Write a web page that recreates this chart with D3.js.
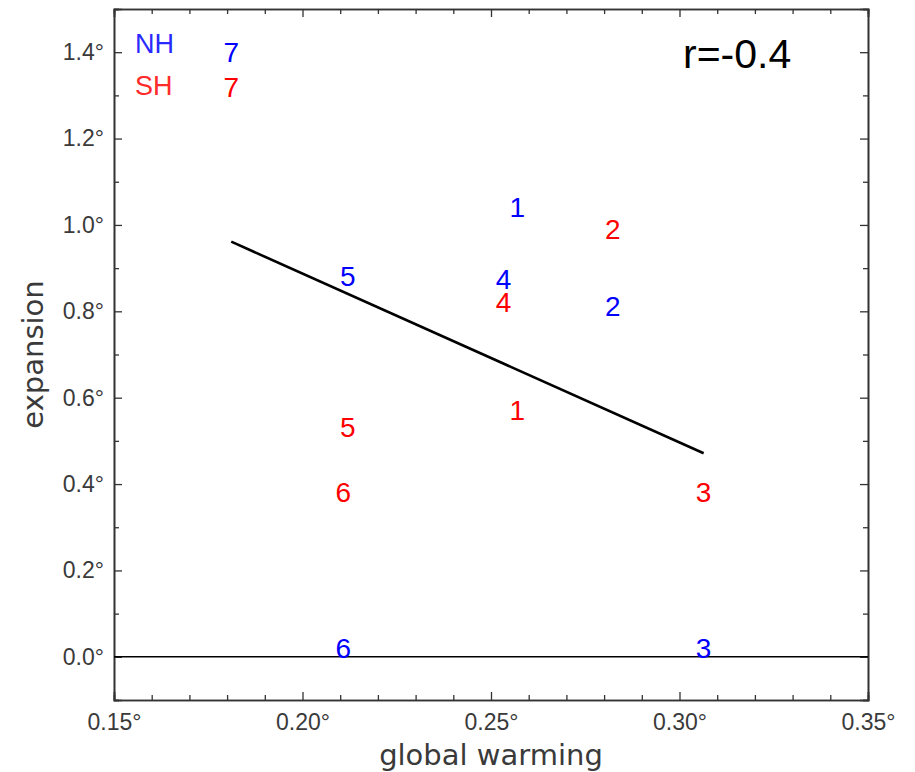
<!DOCTYPE html>
<html>
<head>
<meta charset="utf-8">
<script src="https://cdn.jsdelivr.net/npm/d3@7"></script>
<style>
  html, body { margin: 0; padding: 0; background: #fff; }
  svg { display: block; }
</style>
</head>
<body>
<svg id="chart" width="915" height="772"></svg>
<script>
// ---- data ----
const models = ["1", "2", "3", "4", "5", "6", "7"];
const warming = [0.2570, 0.2823, 0.3064, 0.2533, 0.2120, 0.2108, 0.1811];
const expansionNH = [1.042, 0.812, 0.021, 0.874, 0.882, 0.021, 1.400];
const expansionSH = [0.572, 0.991, 0.382, 0.822, 0.533, 0.382, 1.320];
const xTicks = [0.15, 0.20, 0.25, 0.30, 0.35];
const yTicks = [0.0, 0.2, 0.4, 0.6, 0.8, 1.0, 1.2, 1.4];
const legendLabels = ["NH", "SH"];
const corrLabel = "r=-0.4";
const xTitle = "global warming";
const yTitle = "expansion";

// ---- layout ----
const L = 114, R = 868, T = 9, B = 700;
const svg = d3.select("#chart");
const x = d3.scaleLinear().domain([0.15, 0.35]).range([L, R]);
const y = d3.scaleLinear().domain([-0.1, 1.5]).range([B, T]);
const axisCol = "#333";
const tickFont = "'Liberation Sans', Arial, sans-serif";
const titleFont = "'DejaVu Sans', sans-serif";

const xMinor = d3.range(15, 36).map(d => d / 100).filter(d => !xTicks.some(t => Math.abs(t - d) < 1e-9));
const yMinor = d3.range(-1, 16).map(d => d / 10).filter(d => !yTicks.some(t => Math.abs(t - d) < 1e-9));

function fmt(d) { return d3.format(".2f")(d) + "°"; }
function fmtY(d) { return d3.format(".1f")(d) + "°"; }

// axes (ticks inward) on all four sides
const gB = svg.append("g").attr("transform", `translate(0,${B})`)
  .call(d3.axisBottom(x).tickValues(xTicks).tickSize(-8).tickPadding(14).tickFormat(fmt));
const gBm = svg.append("g").attr("transform", `translate(0,${B})`)
  .call(d3.axisBottom(x).tickValues(xMinor).tickSize(-5).tickFormat(""));
const gT = svg.append("g").attr("transform", `translate(0,${T})`)
  .call(d3.axisTop(x).tickValues(xTicks).tickSize(-8).tickFormat(""));
const gTm = svg.append("g").attr("transform", `translate(0,${T})`)
  .call(d3.axisTop(x).tickValues(xMinor).tickSize(-5).tickFormat(""));
const gL = svg.append("g").attr("transform", `translate(${L},0)`)
  .call(d3.axisLeft(y).tickValues(yTicks).tickSize(-8).tickPadding(10).tickFormat(fmtY));
const gLm = svg.append("g").attr("transform", `translate(${L},0)`)
  .call(d3.axisLeft(y).tickValues(yMinor).tickSize(-5).tickFormat(""));
const gR = svg.append("g").attr("transform", `translate(${R},0)`)
  .call(d3.axisRight(y).tickValues(yTicks).tickSize(-8).tickFormat(""));
const gRm = svg.append("g").attr("transform", `translate(${R},0)`)
  .call(d3.axisRight(y).tickValues(yMinor).tickSize(-5).tickFormat(""));

[gB, gBm, gT, gTm, gL, gLm, gR, gRm].forEach(g => {
  g.select(".domain").attr("stroke", axisCol).attr("stroke-width", 1.6);
  g.selectAll(".tick line").attr("stroke", axisCol).attr("stroke-width", 1.3);
  g.selectAll(".tick text").attr("fill", "#3a3a3a")
    .style("font-family", tickFont).style("font-size", "23px");
});

// zero line
svg.append("line")
  .attr("x1", L).attr("x2", R).attr("y1", y(0)).attr("y2", y(0))
  .attr("stroke", "#000").attr("stroke-width", 1.5);

// regression line (least squares on model means of NH and SH)
const meanExp = models.map((m, i) => (expansionNH[i] + expansionSH[i]) / 2);
const mx = d3.mean(warming), my = d3.mean(meanExp);
const sxy = d3.sum(warming, (w, i) => (w - mx) * (meanExp[i] - my));
const sxx = d3.sum(warming, w => (w - mx) * (w - mx));
const slope = sxy / sxx, icpt = my - slope * mx;
const [x0, x1] = d3.extent(warming);
svg.append("line")
  .attr("x1", x(x0)).attr("y1", y(icpt + slope * x0))
  .attr("x2", x(x1)).attr("y2", y(icpt + slope * x1))
  .attr("stroke", "#000").attr("stroke-width", 2.6);

// model number markers
const digitFont = "'Liberation Sans', Arial, sans-serif";
function plotSeries(vals, col) {
  svg.append("g").selectAll("text").data(models).join("text")
    .attr("x", (m, i) => x(warming[i]))
    .attr("y", (m, i) => y(vals[i]))
    .attr("dy", "0.36em")
    .attr("text-anchor", "middle")
    .attr("fill", col)
    .style("font-family", digitFont)
    .style("font-size", "28px")
    .text(m => m);
}
plotSeries(expansionNH, "#0000ff");
plotSeries(expansionSH, "#ff0000");

// legend
svg.append("g").selectAll("text").data(legendLabels).join("text")
  .attr("x", 135).attr("y", (d, i) => 53 + i * 42)
  .attr("fill", (d, i) => i === 0 ? "#2a2aff" : "#ff2a2a")
  .style("font-family", tickFont).style("font-size", "27px")
  .text(d => d);

// correlation label
svg.append("text")
  .attr("x", 683).attr("y", 68)
  .attr("fill", "#000")
  .style("font-family", tickFont).style("font-size", "41px")
  .text(corrLabel);

// axis titles
svg.append("text")
  .attr("x", (L + R) / 2).attr("y", 765)
  .attr("text-anchor", "middle").attr("fill", "#3a3a3a")
  .style("font-family", titleFont).style("font-size", "29px")
  .text(xTitle);
svg.append("text")
  .attr("transform", `translate(43,${(T + B) / 2}) rotate(-90)`)
  .attr("text-anchor", "middle").attr("fill", "#3a3a3a")
  .style("font-family", titleFont).style("font-size", "29px")
  .text(yTitle);
</script>
</body>
</html>
